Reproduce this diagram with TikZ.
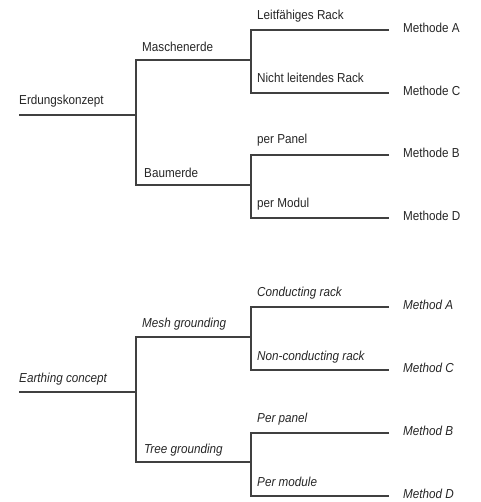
\documentclass[tikz,border=0pt]{standalone}
\usepackage{fontspec}
\setmainfont{Liberation Sans}[FakeStretch=0.9]
\usepackage{tikz}

\begin{document}
\begin{tikzpicture}[x=1pt,y=-1pt,font=\fontsize{13}{15}\selectfont,
    branch/.style={draw=black!75,line width=1.2pt},
    itemtext/.style={anchor=base west,inner sep=0pt,text=black!85,xshift=6pt,yshift=9pt},
    methodtext/.style={anchor=mid west,inner sep=0pt,text=black!85,xshift=14pt}]

    \useasboundingbox (0,0) rectangle (480,502);

    % German tree
    \coordinate (E0) at (19,115);
    \coordinate (E1) at (136,115);
    \coordinate (MA) at (136,60);
    \coordinate (MAe) at (251,60);
    \coordinate (BA) at (136,185);
    \coordinate (BAe) at (251,185);
    \coordinate (LR) at (251,30);
    \coordinate (LRe) at (389,30);
    \coordinate (NR) at (251,93);
    \coordinate (NRe) at (389,93);
    \coordinate (PP) at (251,155);
    \coordinate (PPe) at (389,155);
    \coordinate (PM) at (251,218);
    \coordinate (PMe) at (389,218);

    \draw[branch] (E0) -- (E1);
    \draw[branch] (MAe) -- (MA) -- (BA) -- (BAe);
    \draw[branch] (LRe) -- (LR) -- (NR) -- (NRe);
    \draw[branch] (PPe) -- (PP) -- (PM) -- (PMe);

    \node[itemtext,xshift=-6pt,yshift=1pt] (erdung) at (E0) {Erdungskonzept};
    \node[itemtext,yshift=-1pt] (masche) at (MA) {Maschenerde};
    \node[itemtext,xshift=2pt,yshift=-2pt] (baum) at (BA) {Baumerde};
    \node[itemtext,yshift=1pt] (leitrack) at (LR) {Leitfähiges Rack};
    \node[itemtext,yshift=1pt] (nichtrack) at (NR) {Nicht leitendes Rack};
    \node[itemtext,yshift=2pt] (perpanel) at (PP) {per Panel};
    \node[itemtext,yshift=1pt] (permodul) at (PM) {per Modul};

    \node[methodtext] (methA) at (LRe) {Methode A};
    \node[methodtext] (methC) at (NRe) {Methode C};
    \node[methodtext] (methB) at (PPe) {Methode B};
    \node[methodtext] (methD) at (PMe) {Methode D};

    % English tree
    \begin{scope}[font=\fontsize{13}{15}\selectfont\itshape]
    \coordinate (F0) at (19,392);
    \coordinate (F1) at (136,392);
    \coordinate (MG) at (136,337);
    \coordinate (MGe) at (251,337);
    \coordinate (TG) at (136,462);
    \coordinate (TGe) at (251,462);
    \coordinate (CR) at (251,307);
    \coordinate (CRe) at (389,307);
    \coordinate (NC) at (251,370);
    \coordinate (NCe) at (389,370);
    \coordinate (PN) at (251,433);
    \coordinate (PNe) at (389,433);
    \coordinate (PO) at (251,496);
    \coordinate (POe) at (389,496);

    \draw[branch] (F0) -- (F1);
    \draw[branch] (MGe) -- (MG) -- (TG) -- (TGe);
    \draw[branch] (CRe) -- (CR) -- (NC) -- (NCe);
    \draw[branch] (PNe) -- (PN) -- (PO) -- (POe);

    \node[itemtext,xshift=-6pt,yshift=1pt] (earthing) at (F0) {Earthing concept};
    \node[itemtext,yshift=1pt] (mesh) at (MG) {Mesh grounding};
    \node[itemtext,xshift=2pt] (tree) at (TG) {Tree grounding};
    \node[itemtext,yshift=2pt] (condrack) at (CR) {Conducting rack};
    \node[itemtext,yshift=1pt] (noncond) at (NC) {Non-conducting rack};
    \node[itemtext,yshift=2pt] (perpanelE) at (PN) {Per panel};
    \node[itemtext,yshift=1pt] (permodule) at (PO) {Per module};

    \node[methodtext] (methodA) at (CRe) {Method A};
    \node[methodtext] (methodC) at (NCe) {Method C};
    \node[methodtext] (methodB) at (PNe) {Method B};
    \node[methodtext] (methodD) at (POe) {Method D};
    \end{scope}
\end{tikzpicture}
\end{document}
